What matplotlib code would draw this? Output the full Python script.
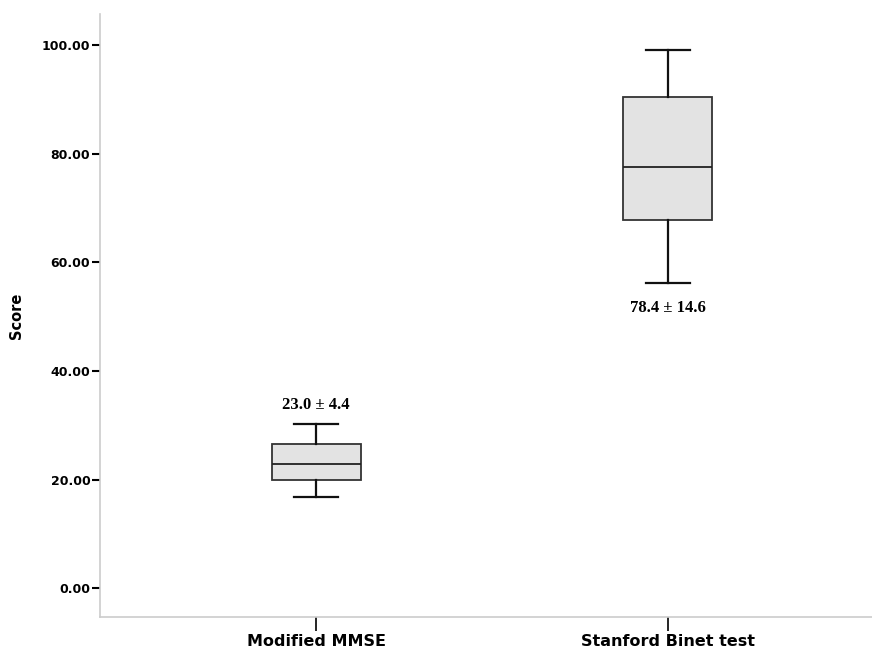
import matplotlib
matplotlib.use("Agg")
import matplotlib.pyplot as plt

# values
groups = ["Modified MMSE", "Stanford Binet test"]
whisker_low = [16.8, 56.2]
q1 = [20.0, 67.8]
median = [22.8, 77.5]
q3 = [26.5, 90.4]
whisker_high = [30.2, 99.1]
notes = ["23.0 \u00b1 4.4", "78.4 \u00b1 14.6"]
note_y = [33.7, 51.6]
yticks = [0, 20, 40, 60, 80, 100]

stats = []
for i, g in enumerate(groups):
    stats.append({"label": g, "whislo": whisker_low[i], "q1": q1[i], "med": median[i],
                  "q3": q3[i], "whishi": whisker_high[i], "fliers": []})

fig = plt.figure(figsize=(8.72, 6.5), dpi=100)
ax = fig.add_axes([0.1147, 0.0508, 0.8853, 0.9277])

pos = list(range(len(groups)))
ax.bxp(stats, positions=pos, widths=0.253, patch_artist=True, showfliers=False,
       boxprops=dict(facecolor="#e3e3e3", edgecolor="#333333", linewidth=1.3),
       medianprops=dict(color="#222222", linewidth=1.3),
       whiskerprops=dict(color="#111111", linewidth=1.6),
       capprops=dict(color="#111111", linewidth=1.6),
       capwidths=0.125)

for i in pos:
    ax.text(i, note_y[i], notes[i], ha="center", va="center",
            family="Liberation Serif", fontweight="bold", fontsize=12)

ax.set_xlim(-0.614, 1.58)
ax.set_ylim(-5.3, 105.7)
ax.set_yticks(yticks)
ax.set_yticklabels(["%.2f" % v for v in yticks], fontweight="bold", fontsize=9)
ax.set_xticks(pos)
ax.set_xticklabels(groups, fontweight="bold", fontsize=11.5)
ax.tick_params(axis="y", length=6, width=1.5, color="black", pad=1)
ax.tick_params(axis="x", length=10, width=1.2, color="black", pad=2)
ax.set_ylabel("Score", fontweight="bold", fontsize=10.5, labelpad=13)

for s in ["top", "right"]:
    ax.spines[s].set_visible(False)
for s in ["left", "bottom"]:
    ax.spines[s].set_color("#cccccc")
    ax.spines[s].set_linewidth(1.2)

fig.savefig("out.png", dpi=100)
